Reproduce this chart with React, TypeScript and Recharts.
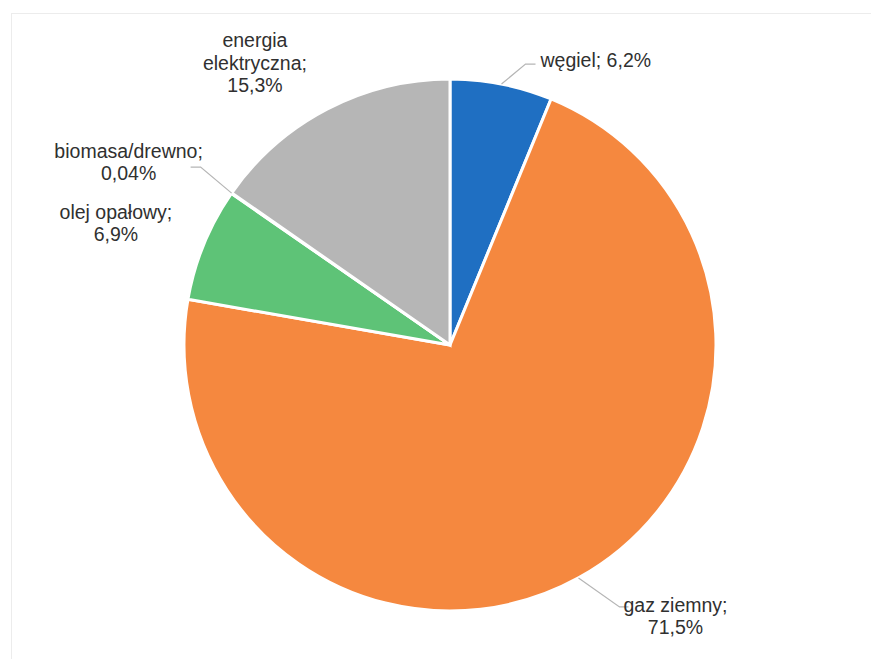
import React from "react"
import { PieChart, Pie, Cell } from "recharts"

const names = ["węgiel", "gaz ziemny", "olej opałowy", "biomasa/drewno", "energia elektryczna"]
const values = [6.2, 71.5, 6.9, 0.04, 15.3]
const colors = ["#1f6fc2", "#f5883f", "#5ec377", "#a9a9a9", "#b6b6b6"]

const data = names.map((name, i) => ({ name, value: values[i] }))

// where each label sits, relative to the point on the pie edge
const labelLayout: Record<string, any> = {
    "węgiel": { tx: 39, ty: -24, anchor: "start", lines: 1, line: [[24, -20], [34, -20]] },
    "gaz ziemny": { tx: 97, ty: 27, anchor: "middle", lines: 2, line: [[41, 29], [50, 29]] },
    "olej opałowy": { tx: -88, ty: -32, anchor: "middle", lines: 2 },
    "biomasa/drewno": { tx: -103, ty: -42, anchor: "middle", lines: 2, line: [[-31, -26], [-41, -26]] },
    "energia elektryczna": { tx: -72, ty: -69, anchor: "middle", lines: 3 },
}

const RAD = Math.PI / 180

const fmt = (v: number) => v.toString().replace(".", ",") + "%"

function renderLabel(props: any) {
    const { cx, cy, midAngle, outerRadius, name, value } = props
    const ex = cx + outerRadius * Math.cos(-midAngle * RAD)
    const ey = cy + outerRadius * Math.sin(-midAngle * RAD)
    const lay = labelLayout[name]
    let rows: string[]
    if (lay.lines === 1) rows = [name + "; " + fmt(value)]
    else if (lay.lines === 3) {
        const w = name.split(" ")
        rows = [w[0], w.slice(1).join(" ") + ";", fmt(value)]
    } else rows = [name + ";", fmt(value)]

    let path = null
    if (lay.line) {
        const pts = [[ex, ey], ...lay.line.map((p: number[]) => [ex + p[0], ey + p[1]])]
        path = (
            <polyline
                points={pts.map((p) => p.join(",")).join(" ")}
                fill="none"
                stroke="#b5b5b5"
                strokeWidth={1.2}
            />
        )
    }
    return (
        <g>
            {path}
            <text
                x={ex + lay.tx}
                y={ey + lay.ty}
                textAnchor={lay.anchor}
                fill="#303030"
                fontSize={19.5}
                fontFamily="Liberation Sans, Arial, sans-serif"
            >
                {rows.map((r, i) => (
                    <tspan key={i} x={ex + lay.tx} dy={i === 0 ? "0.35em" : 22.5}>
                        {r}
                    </tspan>
                ))}
            </text>
        </g>
    )
}

export default function App() {
    return (
        <div style={{ position: "absolute", left: 0, top: 0, width: 871, height: 659, background: "#fff" }}>
            <div
                style={{
                    position: "absolute",
                    left: 11,
                    top: 13,
                    width: 870,
                    height: 660,
                    borderTop: "1px solid #ececec",
                    borderLeft: "1px solid #ececec",
                }}
            />
            <div style={{ position: "absolute", left: 0, top: 0 }}>
                <PieChart width={871} height={659} margin={{ top: 0, right: 0, bottom: 0, left: 0 }}>
                    <Pie
                        data={data}
                        dataKey="value"
                        nameKey="name"
                        cx={450}
                        cy={345}
                        outerRadius={266}
                        startAngle={90}
                        endAngle={-270}
                        stroke="#ffffff"
                        strokeWidth={3}
                        label={renderLabel}
                        labelLine={false}
                        isAnimationActive={false}
                    >
                        {data.map((d, i) => (
                            <Cell key={d.name} fill={colors[i]} />
                        ))}
                    </Pie>
                </PieChart>
            </div>
        </div>
    )
}
